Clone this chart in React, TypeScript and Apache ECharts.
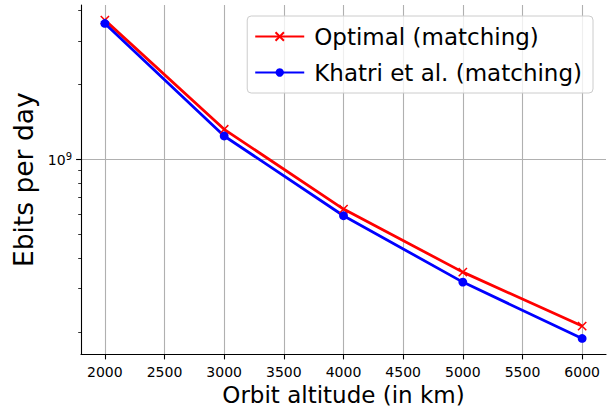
import React, { useEffect, useRef } from 'react';
import * as echarts from 'echarts';

const altitudes = [2000, 3000, 4000, 5000, 6000];
const optimalValues = [3.64e9, 1.32e9, 6.29e8, 3.5e8, 2.12e8];
const khatriValues = [3.53e9, 1.24e9, 5.91e8, 3.19e8, 1.89e8];
const xTickValues = [2000, 2500, 3000, 3500, 4000, 4500, 5000, 5500, 6000];
const yMajorTicks = [1e9];
const yMinorTicks = [2e8, 3e8, 4e8, 5e8, 6e8, 7e8, 8e8, 9e8, 2e9, 3e9, 4e9];
const seriesNames = ['Optimal (matching)', 'Khatri et al. (matching)'];

const FONT = 'DejaVu Sans';

export default function App() {
  const ref = useRef<HTMLDivElement>(null);
  useEffect(() => {
    if (!ref.current) return;
    const chart = echarts.init(ref.current, undefined, { renderer: 'svg' });
    const yMin = 1.628e8;
    const yMax = 4.19e9;
    chart.setOption({
      animation: false,
      backgroundColor: '#ffffff',
      textStyle: { fontFamily: FONT },
      grid: { left: 81, right: 9, top: 5, bottom: 57.5, containLabel: false, outerBoundsMode: 'none' },
      legend: {
        orient: 'vertical',
        right: 22,
        top: 16,
        itemWidth: 49,
        itemHeight: 10.5,
        itemGap: 13,
        padding: [9, 11, 9, 7],
        backgroundColor: 'rgba(255,255,255,0.8)',
        borderColor: '#cccccc',
        borderWidth: 1,
        borderRadius: 4,
        textStyle: { fontFamily: FONT, fontSize: 23, color: '#000', padding: [0, 0, 0, 5] },
        data: seriesNames,
      },
      xAxis: {
        type: 'value',
        min: 1800,
        max: 6200,
        name: 'Orbit altitude (in km)',
        nameLocation: 'middle',
        nameGap: 25,
        nameTextStyle: { fontFamily: FONT, fontSize: 23, color: '#000' },
        axisLine: { show: true, lineStyle: { color: '#000', width: 1.1 } },
        axisTick: { show: true, length: 4.9, lineStyle: { color: '#000', width: 1.1 }, customValues: xTickValues },
        axisLabel: {
          customValues: xTickValues,
          fontFamily: FONT,
          fontSize: 14,
          color: '#000',
          margin: 10,
          formatter: (v: number) => String(v),
        },
        splitLine: { show: true, lineStyle: { color: '#b0b0b0', width: 1.1 } },
      },
      yAxis: [
        {
          type: 'log',
          logBase: 10,
          min: yMin,
          max: yMax,
          name: 'Ebits per day',
          nameLocation: 'middle',
          nameGap: 44,
          nameRotate: 90,
          nameTextStyle: { fontFamily: FONT, fontSize: 26.5, color: '#000' },
          axisLine: { show: true, lineStyle: { color: '#000', width: 1.1 } },
          axisTick: { show: true, length: 4.9, lineStyle: { color: '#000', width: 1.1 }, customValues: yMajorTicks },
          axisLabel: {
            customValues: yMajorTicks,
            fontFamily: FONT,
            color: '#000',
            margin: 9,
            formatter: (v: number) => (Math.abs(v - 1e9) < 1e6 ? '{a|10}{b|9}' : ''),
            rich: {
              a: { fontFamily: FONT, fontSize: 14, lineHeight: 16, verticalAlign: 'bottom', color: '#000' },
              b: { fontFamily: FONT, fontSize: 10, lineHeight: 10, verticalAlign: 'top', color: '#000' },
            },
          },
          splitLine: { show: true, lineStyle: { color: '#b0b0b0', width: 1.1 } },
          minorTick: { show: false },
        },
        {
          type: 'log',
          logBase: 10,
          min: yMin,
          max: yMax,
          position: 'left',
          offset: 0,
          axisLine: { show: false },
          axisTick: { show: true, length: 2.8, lineStyle: { color: '#000', width: 0.8 }, customValues: yMinorTicks },
          axisLabel: { show: false, customValues: yMinorTicks },
          splitLine: { show: false },
        },
      ],
      series: [
        {
          name: seriesNames[0],
          type: 'line',
          data: altitudes.map((a, i) => [a, optimalValues[i]]),
          color: '#ff0000',
          symbol: 'path://M0,0L10,10M10,0L0,10',
          symbolSize: 8.3,
          showAllSymbol: true,
          lineStyle: { color: '#ff0000', width: 2.78 },
          itemStyle: { color: '#ff0000', borderColor: '#ff0000', borderWidth: 1.5 },
        },
        {
          name: seriesNames[1],
          type: 'line',
          data: altitudes.map((a, i) => [a, khatriValues[i]]),
          color: '#0000ff',
          symbol: 'circle',
          symbolSize: 8.8,
          showAllSymbol: true,
          lineStyle: { color: '#0000ff', width: 2.78 },
          itemStyle: { color: '#0000ff', borderColor: '#0000ff', borderWidth: 0 },
        },
      ],
    });
    return () => chart.dispose();
  }, []);
  return <div ref={ref} style={{ position: 'fixed', left: 0, top: 0, width: 615, height: 412 }} />;
}
